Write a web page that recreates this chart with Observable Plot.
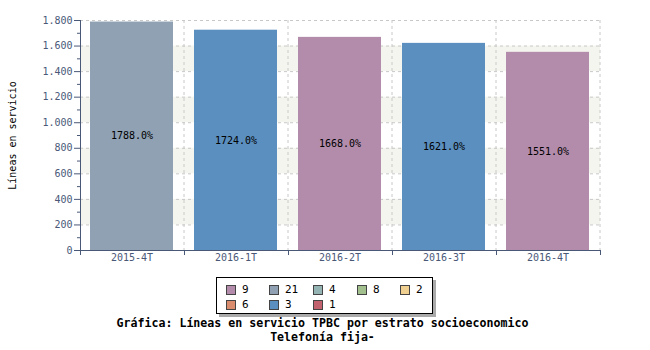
<!DOCTYPE html>
<html><head><meta charset="utf-8">
<script src="https://cdn.jsdelivr.net/npm/d3@7"></script>
<script src="https://cdn.jsdelivr.net/npm/@observablehq/plot@0.6"></script>
<style>
body{margin:0;background:#fff;}
#wrap{position:relative;width:650px;height:350px;font-family:"DejaVu Sans Mono",monospace;}
#legend{position:absolute;left:216px;top:277px;width:215px;height:35px;border:1px solid #000;background:#fff;box-shadow:3px 3px 0 #aaa;font-size:11px;color:#000;}
.li{position:absolute;display:flex;align-items:center;}
.sw{width:8px;height:8px;border:1px solid #444;margin-right:6px;}
#cap{position:absolute;left:0;width:645px;top:316px;text-align:center;font-weight:bold;font-size:11.6px;line-height:14px;color:#000;}
</style></head>
<body><div id="wrap"><div id="chart"></div><div id="legend"></div><div id="cap"></div></div>
<script>
const periods = ["2015-4T","2016-1T","2016-2T","2016-3T","2016-4T"];
const values = [1788, 1724, 1668, 1621, 1551];
const barEstrato = ["21","3","9","3","9"];
const legendKeys = ["9","21","4","8","2","6","3","1"];
const legendColors = ["#b38cac","#8fa1b3","#94b4b4","#a2c08e","#efd091","#d98c6e","#5b8fbf","#c2626e"];
const majorTicks = [0,200,400,600,800,1000,1200,1400,1600,1800];
const minorTicks = [100,300,500,700,900,1100,1300,1500,1700];
const bandLows = [200,600,1000,1400];
const yLabel = "Líneas en servicio";
const caption1 = "Gráfica: Líneas en servicio TPBC por estrato socioeconomico";
const caption2 = "Telefonía fija-";

const colorOf = k => legendColors[legendKeys.indexOf(k)];
const data = periods.map((p,i)=>({period:p, value:values[i], estrato:barEstrato[i]}));
const bands = bandLows.map(v=>({y1:v, y2:v+200}));
const fmt = d3.formatLocale({decimal:",", thousands:".", grouping:[3], currency:["",""]}).format(",");
const axisColor = "#4a5878";

const boundaries = (index, scales, values, dim) => {
  const g = d3.create("svg:g");
  const n = periods.length;
  const x0 = dim.marginLeft, x1 = dim.width - dim.marginRight;
  const y0 = dim.height - dim.marginBottom, yT = dim.marginTop;
  const step = (x1 - x0)/n;
  for (let i=1;i<=n;i++){
    const x = x0 + i*step;
    g.append("line").attr("x1",x).attr("x2",x).attr("y1",yT).attr("y2",y0)
      .attr("stroke","#c8c8c8").attr("stroke-dasharray","3,3");
  }
  return g.node();
};
const axisLines = (index, scales, values, dim) => {
  const g = d3.create("svg:g");
  const n = periods.length;
  const x0 = dim.marginLeft, x1 = dim.width - dim.marginRight;
  const y0 = dim.height - dim.marginBottom, yT = dim.marginTop;
  const step = (x1 - x0)/n;
  g.append("line").attr("x1",x0+0.5).attr("x2",x0+0.5).attr("y1",yT).attr("y2",y0).attr("stroke",axisColor);
  g.append("line").attr("x1",x0).attr("x2",x1).attr("y1",y0+0.5).attr("y2",y0+0.5).attr("stroke",axisColor);
  for (let i=0;i<=n;i++){
    const x = Math.round(x0 + i*step)+0.5;
    g.append("line").attr("x1",x).attr("x2",x).attr("y1",y0).attr("y2",y0+5).attr("stroke",axisColor);
  }
  return g.node();
};

const chart = Plot.plot({
  width: 650, height: 268,
  marginLeft: 80, marginRight: 50, marginTop: 20, marginBottom: 18,
  style: {fontFamily: "DejaVu Sans Mono, monospace", fontSize: "10px", background: "white"},
  x: {domain: periods, paddingInner: 0.2, paddingOuter: 0.1, label: null},
  y: {domain: [0,1800], label: null},
  marks: [
    Plot.rect(bands, {y1:"y1", y2:"y2", fill:"#f5f5f0"}),
    Plot.ruleY(majorTicks.filter(d=>d>0), {stroke:"#c8c8c8", strokeDasharray:"3,3"}),
    boundaries,
    Plot.barY(data, {x:"period", y:"value", fill: d=>colorOf(d.estrato)}),
    Plot.text(data, {x:"period", y: d=>d.value/2, text: d=>d.value.toFixed(1)+"%", fill:"#000", fontSize:10}),
    Plot.axisY({ticks: majorTicks, tickFormat: fmt, tickSize: 6, tickPadding: 2, color: axisColor, label: null}),
    Plot.axisY({ticks: minorTicks, tickFormat: ()=> "", tickSize: 3, color: axisColor, label: null}),
    Plot.axisX({tickSize: 0, tickPadding: 3, color: axisColor, label: null}),
    Plot.text([yLabel], {frameAnchor:"left", textAnchor:"middle", rotate:-90, dx:-68, fill:"#000", fontSize:10}),
    axisLines
  ]
});
document.getElementById("chart").appendChild(chart);

const leg = document.getElementById("legend");
const colX = [9, 52, 96, 140, 183];
legendKeys.forEach((k,i)=>{
  const r = Math.floor(i/5), c = i%5;
  const el = document.createElement("div");
  el.className = "li";
  el.style.left = colX[c]+"px";
  el.style.top = (5 + r*15)+"px";
  el.innerHTML = `<span class="sw" style="background:${legendColors[i]}"></span><span>${k}</span>`;
  leg.appendChild(el);
});
document.getElementById("cap").innerHTML = caption1 + "<br>" + caption2;
</script></body></html>
